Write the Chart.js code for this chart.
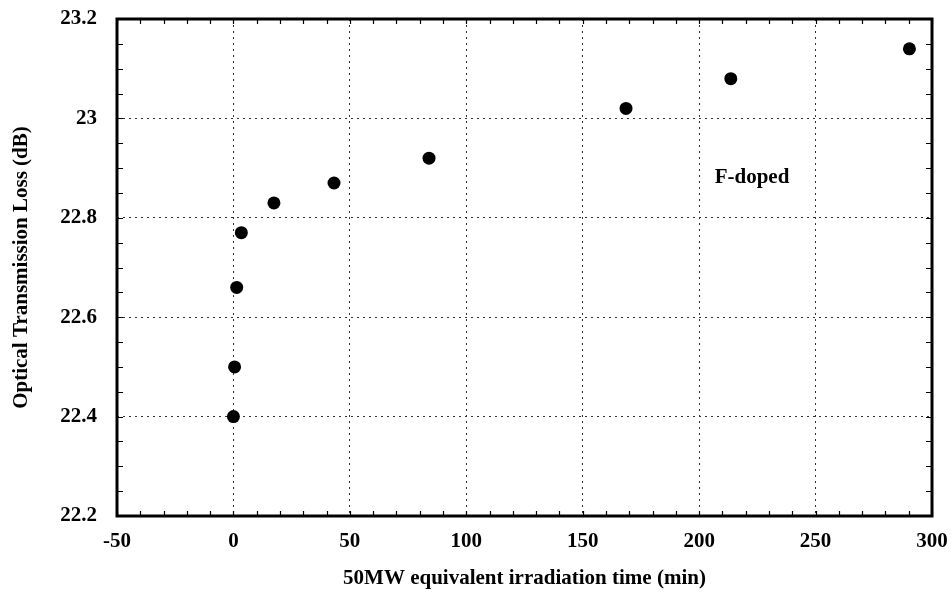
<!DOCTYPE html>
<html>
<head>
<meta charset="utf-8">
<script src="https://cdn.jsdelivr.net/npm/chart.js@4/dist/chart.umd.min.js"></script>
<style>
  html, body { margin: 0; padding: 0; background: #fff; }
  #wrap { width: 952px; height: 601px; }
</style>
</head>
<body>
<div id="wrap"><canvas id="c" width="952" height="601"></canvas></div>
<script>
// ---- data ----
const irradiationTime = [0, 0.5, 1.4, 3.4, 17.4, 43.2, 84, 168.6, 213.6, 290.3];
const transmissionLoss = [22.40, 22.50, 22.66, 22.77, 22.83, 22.87, 22.92, 23.02, 23.08, 23.14];
const xTickLabels = ['-50', '0', '50', '100', '150', '200', '250', '300'];
const yTickLabels = ['22.2', '22.4', '22.6', '22.8', '23', '23.2'];
const seriesLabel = 'F-doped';
const xTitle = '50MW equivalent irradiation time (min)';
const yTitle = 'Optical Transmission Loss (dB)';
const annotationAt = { x: 222.7, y: 22.880 };

const FONT = "'Liberation Serif', 'Times New Roman', serif";
const points = irradiationTime.map((t, i) => ({ x: t, y: transmissionLoss[i] }));

const framePlugin = {
  id: 'frame',
  afterDraw(chart) {
    const { ctx, chartArea: a, scales: { x, y } } = chart;
    ctx.save();
    ctx.strokeStyle = '#000';
    // minor ticks (inward) on all four sides
    ctx.lineWidth = 1.2;
    ctx.beginPath();
    for (let v = -50; v <= 300.001; v += 10) {
      const px = Math.round(x.getPixelForValue(v)) + 0.5;
      ctx.moveTo(px, a.bottom); ctx.lineTo(px, a.bottom - 5);
      ctx.moveTo(px, a.top); ctx.lineTo(px, a.top + 5);
    }
    for (let k = 0; k <= 20; k++) {
      const py = Math.round(y.getPixelForValue(22.2 + k * 0.05)) + 0.5;
      ctx.moveTo(a.left, py); ctx.lineTo(a.left + 6, py);
      ctx.moveTo(a.right, py); ctx.lineTo(a.right - 6, py);
    }
    ctx.stroke();
    // frame
    ctx.lineWidth = 3;
    ctx.strokeRect(a.left, a.top, a.right - a.left, a.bottom - a.top);
    // annotation
    ctx.fillStyle = '#000';
    ctx.font = 'bold 21px ' + FONT;
    ctx.textAlign = 'center';
    ctx.textBaseline = 'middle';
    ctx.fillText(seriesLabel, x.getPixelForValue(annotationAt.x), y.getPixelForValue(annotationAt.y));
    ctx.restore();
  }
};

new Chart(document.getElementById('c'), {
  type: 'scatter',
  data: {
    datasets: [{
      label: seriesLabel,
      data: points,
      backgroundColor: '#000',
      borderColor: '#000',
      borderWidth: 0,
      pointRadius: 6.5,
      pointHoverRadius: 6.5
    }]
  },
  options: {
    responsive: false,
    animation: false,
    layout: { padding: { left: 0, right: 20, top: 19, bottom: 0 } },
    plugins: { legend: { display: false }, tooltip: { enabled: false } },
    scales: {
      x: {
        type: 'linear',
        min: -50, max: 300,
        ticks: {
          stepSize: 50,
          color: '#000',
          padding: 13,
          maxRotation: 0,
          font: { family: FONT, size: 21, weight: 'bold' },
          callback: (v) => { const i = Math.round((v + 50) / 50); return xTickLabels[i] ?? ''; }
        },
        grid: {
          color: (c) => (c.tick && (c.tick.value === -50 || c.tick.value === 300)) ? 'rgba(0,0,0,0)' : '#333',
          lineWidth: 1,
          drawTicks: false
        },
        border: { display: false, dash: [2, 4] },
        title: {
          display: true, text: xTitle, color: '#000',
          font: { family: FONT, size: 21, weight: 'bold' },
          padding: { top: 0, bottom: 10 }
        },
        afterFit(s) { s.height = 85; s.paddingLeft = 0; s.paddingRight = 0; }
      },
      y: {
        type: 'linear',
        min: 22.2, max: 23.2,
        ticks: {
          stepSize: 0.2,
          color: '#000',
          padding: 20,
          font: { family: FONT, size: 21, weight: 'bold' },
          callback: (v) => { const i = Math.round((v - 22.2) / 0.2); return yTickLabels[i] ?? ''; }
        },
        grid: {
          color: (c) => (c.tick && (Math.abs(c.tick.value - 22.2) < 1e-6 || Math.abs(c.tick.value - 23.2) < 1e-6)) ? 'rgba(0,0,0,0)' : '#333',
          lineWidth: 1,
          drawTicks: false
        },
        border: { display: false, dash: [2, 4] },
        title: {
          display: true, text: yTitle, color: '#000',
          font: { family: FONT, size: 21, weight: 'bold' },
          padding: { top: 9, bottom: 0 }
        },
        afterFit(s) { s.width = 117; s.paddingTop = 0; s.paddingBottom = 0; }
      }
    }
  },
  plugins: [framePlugin]
});
</script>
</body>
</html>
